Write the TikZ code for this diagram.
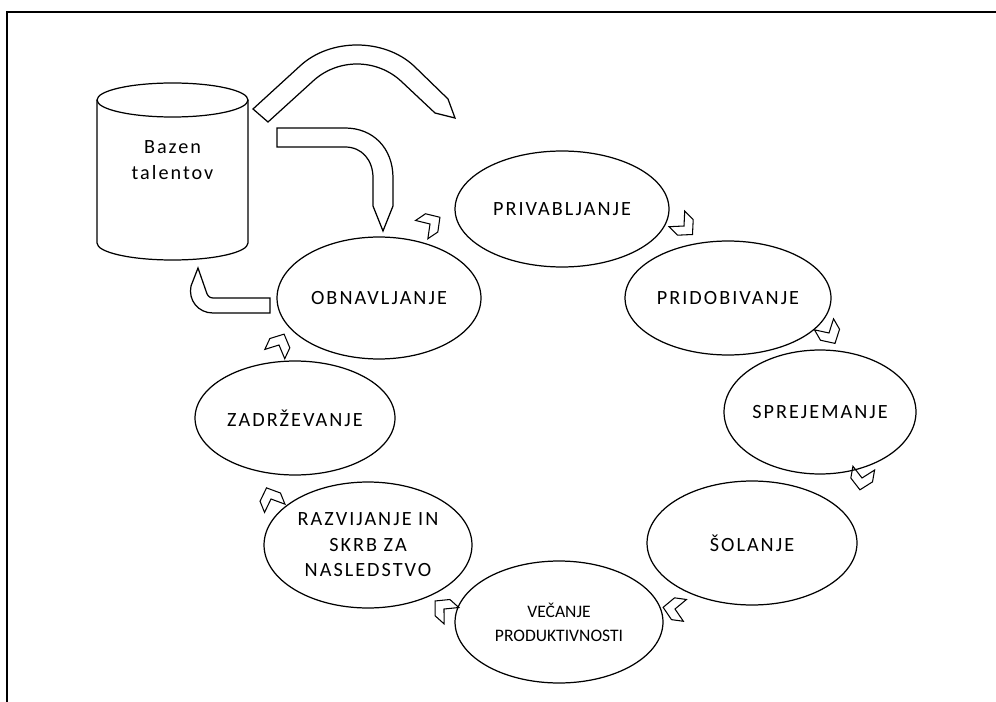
\documentclass[tikz,border=0pt]{standalone}
\usepackage{fontspec}
\setmainfont{Carlito}[LetterSpace=10]
\newfontfamily\narrowfont{Carlito}
\usetikzlibrary{shapes.geometric}

\begin{document}
\begin{tikzpicture}[x=0.02cm,y=0.02cm]
	\tikzstyle{faza}=[draw,
		ellipse,
		line width=.7pt,
		inner sep=0pt,
		align=center,
		font=\fontsize{11.5}{14.5}\selectfont,
		];
	\tikzstyle{blok}=[draw,
		line width=.7pt,
		line join=miter,
		];
	\tikzstyle{chev}=[draw,
		line width=.6pt,
		line join=miter,
		];

	\useasboundingbox (0,0) rectangle (996,-702);
	\draw [line width=1.1pt] (7,-702) -- (7,-12) -- (996,-12);

	\draw [blok] (97,-100) -- (97,-243) arc [start angle=180,end angle=360,x radius=75.5,y radius=17] -- (248,-100);
	\draw [blok] (172.5,-100) ellipse [x radius=75.5,y radius=17];
	\node (bazen) at (172.5,-160) [align=center,font=\fontsize{11.5}{14.7}\selectfont] {Bazen\\talentov};

	\draw [blok] (253,-109) -- (300,-66) .. controls (330,-38) and (384,-38) .. (414,-66) -- (448,-99)
		-- (455,-118) -- (435,-113) -- (402,-82) .. controls (377,-58) and (337,-58) .. (312,-82) -- (268,-122) -- cycle;
	\draw [blok] (277,-128) -- (345,-128) .. controls (373,-128) and (393,-148) .. (393,-178) -- (393,-206)
		-- (383,-231) -- (373,-206) -- (373,-178) .. controls (373,-160) and (362,-147) .. (345,-147) -- (277,-147) -- cycle;
	\draw [blok] (270,-298) -- (213,-298) .. controls (209,-298) and (207,-295) .. (206,-291) -- (198,-268)
		-- (191,-286) .. controls (188,-300) and (198,-313) .. (213,-313) -- (270,-313) -- cycle;

	\node [faza] (obnavljanje) at (379,-298) [minimum width=4.08cm,minimum height=2.44cm] {OBNAVLJANJE};
	\node [faza] (privabljanje) at (562,-209) [minimum width=4.28cm,minimum height=2.32cm] {PRIVABLJANJE};
	\node [faza] (pridobivanje) at (728,-298) [minimum width=4.12cm,minimum height=2.28cm] {PRIDOBIVANJE};
	\node [faza] (sprejemanje) at (820,-412) [minimum width=3.84cm,minimum height=2.48cm] {SPREJEMANJE};
	\node [faza] (solanje) at (752,-543) [minimum width=4.2cm,minimum height=2.48cm] {ŠOLANJE};
	\node [faza] (vecanje) at (559,-622) [minimum width=4.16cm,minimum height=2.44cm,font=\narrowfont\fontsize{10}{13.7}\selectfont] {VEČANJE\\PRODUKTIVNOSTI};
	\node [faza] (razvijanje) at (368,-545) [minimum width=4.16cm,minimum height=2.52cm] {RAZVIJANJE IN\\SKRB ZA\\NASLEDSTVO};
	\node [faza] (zadrzevanje) at (295,-418) [minimum width=4cm,minimum height=2.28cm] {ZADRŽEVANJE};

	\foreach \x/\y/\a in {430/224/34,684/226/-45,829/333/-60,862/478/-100,675/609/172,444/609/138,271/499/112,279/345/65}
		\draw [chev,shift={(\x,-\y)},rotate=\a] (-10,11) -- (2,11) -- (12,0) -- (2,-11) -- (-10,-11) -- (0,0) -- cycle;
\end{tikzpicture}
\end{document}
